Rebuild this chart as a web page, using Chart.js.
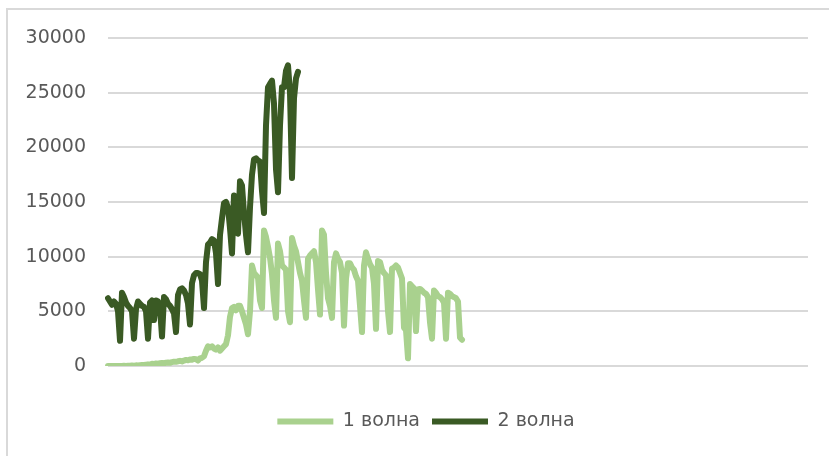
<!DOCTYPE html>
<html>
<head>
<meta charset="utf-8">
<script src="https://cdn.jsdelivr.net/npm/chart.js@4.4.1/dist/chart.umd.min.js"></script>
<style>
    html,body{ margin:0; padding:0; background:#fff; }
    #wrap{ position:relative; width:829px; height:456px; overflow:hidden; }
    #frame{ position:absolute; left:6px; top:8px; width:900px; height:500px; border:2px solid #D9D9D9; }
    #chart{ position:absolute; left:0; top:0; }
</style>
</head>
<body>
<div id="wrap">
    <div id="frame"></div>
    <canvas id="chart" width="829" height="456"></canvas>
</div>
<script>

// ======================================
// DATA
// ======================================

const seriesNames = ["1 волна", "2 волна"];

// one category per day, x labels are not shown on the chart
const days = Array.from({ length: 351 }, (_, i) => i + 1);

const wave1 = [
    0, 0, 0, 0, 0, 0, 10, 0, 20, 10,
    30, 20, 40, 30, 60, 50, 80, 100, 90, 120,
    150, 130, 200, 180, 230, 210, 250, 280, 240, 300,
    320, 290, 360, 400, 380, 430, 470, 420, 500, 560,
    520, 600, 580, 650, 620, 500, 700, 750, 900, 1400,
    1800, 1700, 1800, 1600, 1500, 1700, 1400, 1600, 1800, 2000,
    2800, 4500, 5300, 5400, 5100, 5500, 5500, 5000, 4400, 3800,
    2900, 5000, 9200, 8500, 8300, 8100, 6000, 5300, 12400, 11800,
    10900, 9900, 8400, 6000, 4400, 11200, 10500, 9200, 9000, 8800,
    5000, 4000, 11700, 11000, 10500, 9500, 8500, 7800, 6000, 4400,
    9800, 10100, 10300, 10500, 9500, 7000, 4700, 12400, 12000, 8500,
    6200, 5500, 4400, 9500, 10300, 9800, 9500, 8500, 3700, 8000,
    9400, 9400, 9000, 8800, 8200, 7800, 5500, 3100, 9200, 10400,
    9800, 9300, 9000, 7500, 3400, 9600, 9500, 8800, 8500, 8300,
    5000, 3100, 8900, 9000, 9200, 9000, 8500, 8000, 3500, 3300,
    700, 7500, 7300, 7100, 3200, 7000, 7050, 6900, 6700, 6600,
    6300, 4000, 2500, 6900, 6700, 6400, 6300, 6100, 5800, 2500,
    6700, 6600, 6400, 6300, 6200, 5900, 2600, 2400
];

const wave2 = [
    6200, 5900, 5600, 5900, 5700, 5000, 2300, 6700, 6300, 5800,
    5500, 5300, 5000, 2500, 5200, 5900, 5700, 5500, 5400, 5000,
    2500, 5800, 6000, 4200, 6000, 5900, 5300, 2700, 6300, 6100,
    5700, 5500, 5200, 4800, 3100, 6500, 7000, 7100, 6900, 6500,
    5700, 3800, 7600, 8300, 8500, 8500, 8400, 7800, 5300, 9500,
    11100, 11300, 11600, 11500, 10300, 7500, 12000, 13500, 14900, 15000,
    14500, 12600, 10300, 15600, 13000, 12100, 16900, 16500, 14000, 12000,
    10400, 14500, 17500, 18900, 19000, 18800, 18700, 16000, 14000, 22000,
    25500, 25800, 26100, 24000, 18000, 15900, 22000, 25500, 25500, 27000,
    27500, 25000, 17200, 24500, 26300, 26900
];

const yTicks = [0, 5000, 10000, 15000, 20000, 25000, 30000];

const colors = ["#A9D18E", "#3A5A24"];

// ======================================
// CHART
// ======================================

const textColor = "#595959";
const fontFamily = "'DejaVu Sans', sans-serif";
const tickFont = { family:fontFamily, size:19 };

// width of the widest y label, so the mirrored labels can be right-aligned outside the plot
const measure = document.createElement("canvas").getContext("2d");
measure.font = "19px 'DejaVu Sans'";
const widest = Math.max(...yTicks.map(v=>measure.measureText(String(v)).width));

new Chart(

    document.getElementById("chart"),

    {

        type:"line",

        data:{

            labels:days,

            datasets:[
                {
                    label:seriesNames[0],
                    data:wave1,
                    borderColor:colors[0],
                    backgroundColor:colors[0],
                    borderWidth:6,
                    pointRadius:0,
                    tension:0,
                    borderJoinStyle:"round",
                    borderCapStyle:"round",
                    order:1
                },
                {
                    label:seriesNames[1],
                    data:wave2,
                    borderColor:colors[1],
                    backgroundColor:colors[1],
                    borderWidth:6,
                    pointRadius:0,
                    tension:0,
                    borderJoinStyle:"round",
                    borderCapStyle:"round",
                    order:0
                }
            ]

        },

        options:{

            responsive:false,
            animation:false,
            devicePixelRatio:1,

            layout:{
                padding:{ left:44, right:21, top:38, bottom:15 }
            },

            scales:{

                x:{
                    offset:false,
                    grid:{ display:false },
                    border:{ display:false },
                    ticks:{ display:false },
                    afterFit:(s)=>{ s.height = 34; }
                },

                y:{
                    min:0,
                    max:30000,
                    afterBuildTicks:(s)=>{ s.ticks = yTicks.map(v=>({ value:v })); },
                    grid:{ color:"#D9D9D9", lineWidth:2, drawTicks:false },
                    border:{ display:false },
                    ticks:{
                        color:textColor,
                        font:tickFont,
                        mirror:true,
                        crossAlign:"far",
                        padding:-(22 + widest),
                        callback:(v)=>String(v)
                    },
                    afterFit:(s)=>{ s.width = 64; }
                }

            },

            plugins:{

                legend:{
                    position:"bottom",
                    labels:{
                        color:textColor,
                        font:tickFont,
                        usePointStyle:true,
                        pointStyle:"line",
                        pointStyleWidth:56,
                        padding:12,
                        sort:(a,b)=>a.datasetIndex - b.datasetIndex
                    }
                },

                tooltip:{ enabled:false }

            }

        }

    }

);

</script>
</body>
</html>
